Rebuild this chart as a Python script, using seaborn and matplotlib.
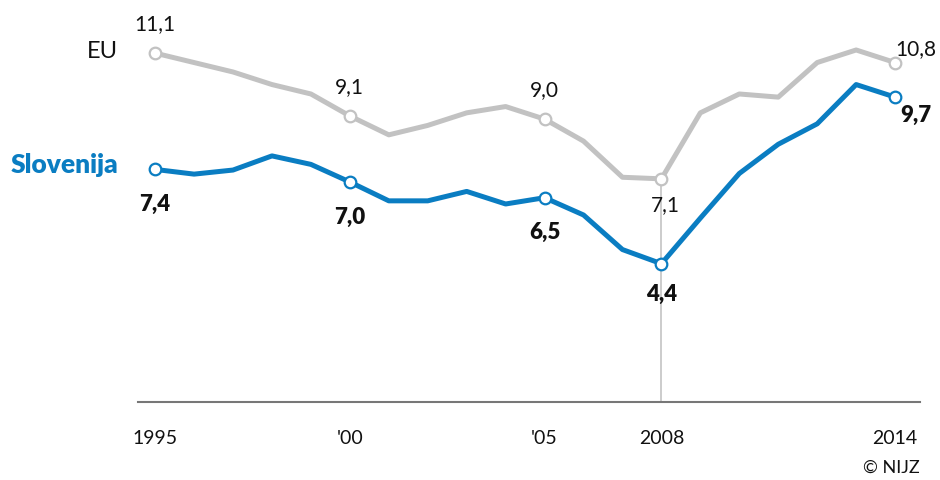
import pandas as pd
import matplotlib.pyplot as plt
import seaborn as sns

years = list(range(1995, 2015))
eu = [11.1, 10.8, 10.5, 10.1, 9.8, 9.1, 8.5, 8.8, 9.2, 9.4,
      9.0, 8.3, 7.15, 7.1, 9.2, 9.8, 9.7, 10.8, 11.2, 10.8]
slovenija = [7.4, 7.25, 7.38, 7.83, 7.56, 7.0, 6.4, 6.4, 6.7, 6.3,
             6.5, 5.95, 4.85, 4.4, 5.85, 7.27, 8.2, 8.85, 10.1, 9.7]
marked_years = [1995, 2000, 2005, 2008, 2014]
tick_years = [1995, 2000, 2005, 2008, 2014]
tick_labels = ["1995", "'00", "'05", "2008", "2014"]

BLUE = "#0a7dc2"
GREY = "#c2c2c2"
TXT = "#111111"

df = pd.DataFrame({
    "leto": years * 2,
    "vrednost": eu + slovenija,
    "serija": ["EU"] * len(years) + ["Slovenija"] * len(years),
})
palette = {"EU": GREY, "Slovenija": BLUE}

sns.set_style("white")
plt.rcParams["font.family"] = ["Lato", "DejaVu Sans"]

fig = plt.figure(figsize=(9.4, 4.8), dpi=100)
ax = fig.add_axes([138 / 940, 1 - 402 / 480, (920 - 138) / 940, 402 / 480])

# navpicna crta pri 2008
ax.plot([2008, 2008], [0, eu[years.index(2008)]], color="#c4c4c4", lw=1.2, zorder=1)

sns.lineplot(data=df, x="leto", y="vrednost", hue="serija", palette=palette,
             linewidth=3.6, legend=False, errorbar=None, ax=ax, zorder=2)
for name, col in palette.items():
    sub = df[(df["serija"] == name) & (df["leto"].isin(marked_years))]
    sns.scatterplot(data=sub, x="leto", y="vrednost", color="white", edgecolor=col,
                    s=70, linewidth=1.6, legend=False, ax=ax, zorder=3)

ax.set_xlim(1994.56, 2014.64)
ax.set_ylim(0, 12.79)
ax.set_xticks(tick_years)
ax.set_xticklabels(tick_labels, fontsize=14, color=TXT)
ax.tick_params(axis="x", length=0, pad=20)
ax.set_yticks([])
ax.set_xlabel("")
ax.set_ylabel("")
for side in ["top", "left", "right"]:
    ax.spines[side].set_visible(False)
ax.spines["bottom"].set_color("#777777")
ax.spines["bottom"].set_linewidth(1.5)


def val(v):
    return f"{v:.1f}".replace(".", ",")


def yv(arr, yr):
    return arr[years.index(yr)]


off = dict(textcoords="offset points", annotation_clip=False, va="baseline")
# EU oznake
for yr, dx, dy, ha in [(1995, 0, 16.5, "center"), (2000, 0, 16.5, "center"),
                       (2005, 0, 16.5, "center"), (2008, 3, -23, "center"),
                       (2014, 0, 5.5, "left")]:
    ax.annotate(val(yv(eu, yr)), (yr, yv(eu, yr)), xytext=(dx, dy), ha=ha,
                fontsize=15, color=TXT, **off)
# Slovenija oznake
for yr, dx, dy, ha in [(1995, 0, -30, "center"), (2000, 0, -30, "center"),
                       (2005, 0, -30, "center"), (2008, 0, -26.5, "center"),
                       (2014, 4, -17.5, "left")]:
    ax.annotate(val(yv(slovenija, yr)), (yr, yv(slovenija, yr)), xytext=(dx, dy), ha=ha,
                fontsize=16, fontweight="heavy", color=TXT, **off)

fig.text(118 / 940, 1 - 58 / 480, "EU", ha="right", va="baseline", fontsize=17, color=TXT)
fig.text(118 / 940, 1 - 173 / 480, "Slovenija", ha="right", va="baseline", fontsize=19,
         fontweight="heavy", color=BLUE)
fig.text(920 / 940, 1 - 468 / 480, "© NIJZ", ha="right", va="center", fontsize=13, color=TXT)

fig.savefig("out.png", dpi=100)
